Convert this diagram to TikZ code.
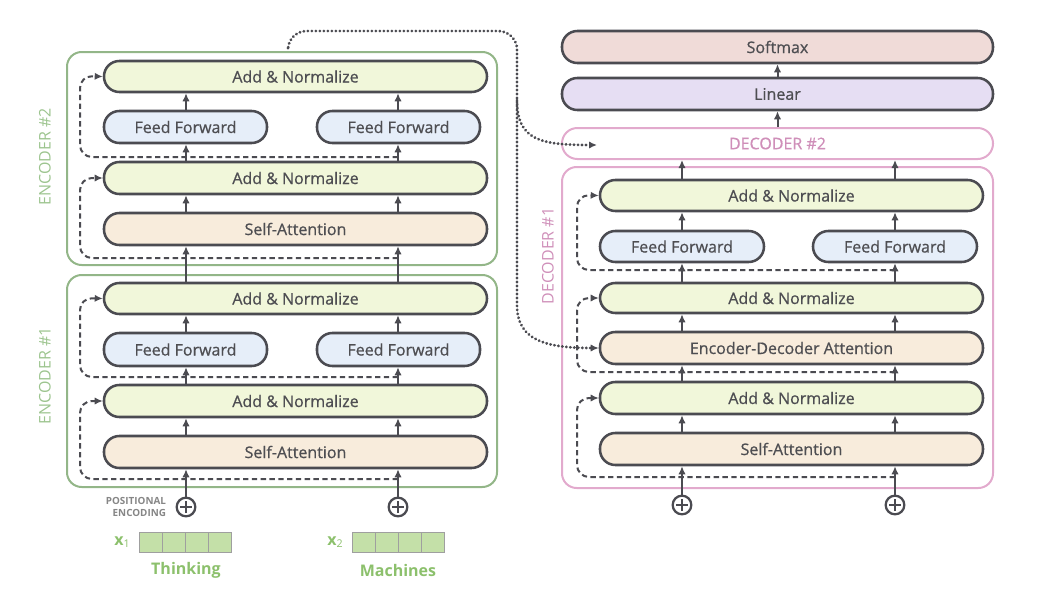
\documentclass[tikz,border=0pt]{standalone}
\usepackage{fontspec}
\setmainfont{Open Sans}
\newfontfamily\boxfont{Open Sans}[FakeBold=0.7]
\usetikzlibrary{arrows.meta, fit, positioning}

\definecolor{edgegray}{HTML}{4B4B51}
\definecolor{txtgray}{HTML}{4E4E52}
\definecolor{annorm}{HTML}{F1F7DA}
\definecolor{ffblue}{HTML}{E6EEF9}
\definecolor{attpeach}{HTML}{F8ECDC}
\definecolor{smaxred}{HTML}{F0DBD8}
\definecolor{linpurple}{HTML}{E6DEF3}
\definecolor{encgreen}{HTML}{93B688}
\definecolor{enctext}{HTML}{9CC48E}
\definecolor{decpink}{HTML}{E2AACD}
\definecolor{dectext}{HTML}{CF8FB9}
\definecolor{cellgreen}{HTML}{C4E0A8}
\definecolor{wordgreen}{HTML}{8CC06C}

\begin{document}
\begin{tikzpicture}[x=0.75pt,y=-0.75pt,
  box/.style={draw=edgegray, line width=1.9pt, rounded corners=11.5pt, inner sep=0pt},
  boxtext/.style={text=txtgray, font=\boxfont\fontsize{12}{14}\selectfont},
  addnorm/.style={box, fill=annorm},
  feedfwd/.style={box, fill=ffblue},
  attn/.style={box, fill=attpeach},
  encframe/.style={draw=encgreen, line width=1.5pt, rounded corners=11pt, inner sep=0pt},
  decframe/.style={draw=decpink, line width=1.5pt, rounded corners=11pt, inner sep=0pt},
  enclabel/.style={text=enctext, font=\fontsize{12}{14}\selectfont, rotate=90},
  declabel/.style={text=dectext, font=\fontsize{12}{14}\selectfont, rotate=90},
  flow/.style={-{Latex[length=6pt,width=5.5pt]}, draw=edgegray, line width=1.5pt},
  resid/.style={-{Latex[length=6pt,width=5.5pt]}, draw=edgegray, line width=1.5pt, dash pattern=on 4pt off 2.6pt, rounded corners=9pt},
  dotflow/.style={-{Latex[length=6pt,width=5.5pt]}, draw=edgegray, line width=2.2pt, line cap=round, dash pattern=on 0.2pt off 2.8pt},
  plusc/.style={circle, draw=edgegray, line width=1.7pt, minimum size=14pt, inner sep=0pt,
    path picture={\draw[edgegray, line width=1.6pt]
      ([xshift=-4.5pt]path picture bounding box.center) -- ([xshift=4.5pt]path picture bounding box.center)
      ([yshift=-4.5pt]path picture bounding box.center) -- ([yshift=4.5pt]path picture bounding box.center);}},
  cell/.style={draw=gray!75, fill=cellgreen, line width=0.6pt, minimum width=17.4pt, minimum height=15pt, inner sep=0pt, outer sep=0pt},
  vlabel/.style={text=wordgreen, font=\fontsize{12}{14}\selectfont\bfseries},
  word/.style={text=wordgreen, font=\fontsize{12}{14}\selectfont\bfseries},
  posenc/.style={text=gray!95, align=right, inner sep=0pt, font=\fontsize{7.4}{9}\selectfont\bfseries}
]
\useasboundingbox (0,0) rectangle (1040,590);

% columns
\coordinate (c1) at (186,0);
\coordinate (c2) at (398,0);
\coordinate (c3) at (682,0);
\coordinate (c4) at (895,0);

% encoder #2
\node[encframe, fit={(67,52) (497,265)}] (enc2) {};
\node[enclabel] (e2lab) at (45,157) {ENCODER \#2};
\node[addnorm, fit={(104,61) (487,92)}] (e2an2) {};
\node[feedfwd, fit={(104,111) (267,143)}] (e2ffa) {};
\node[feedfwd, fit={(317,111) (480,143)}] (e2ffb) {};
\node[addnorm, fit={(104,162) (487,194)}] (e2an1) {};
\node[attn, fit={(104,213) (487,245)}] (e2sa) {};
\node[boxtext] at (e2an2) {Add \& Normalize};
\node[boxtext] at (e2ffa) {Feed Forward};
\node[boxtext] at (e2ffb) {Feed Forward};
\node[boxtext] at (e2an1) {Add \& Normalize};
\node[boxtext] at (e2sa) {Self-Attention};

% encoder #1
\node[encframe, fit={(67,275) (497,487)}] (enc1) {};
\node[enclabel] (e1lab) at (45,376) {ENCODER \#1};
\node[addnorm, fit={(104,283) (487,314)}] (e1an2) {};
\node[feedfwd, fit={(104,333) (267,366)}] (e1ffa) {};
\node[feedfwd, fit={(317,333) (480,366)}] (e1ffb) {};
\node[addnorm, fit={(104,385) (487,417)}] (e1an1) {};
\node[attn, fit={(104,436) (487,468)}] (e1sa) {};
\node[boxtext] at (e1an2) {Add \& Normalize};
\node[boxtext] at (e1ffa) {Feed Forward};
\node[boxtext] at (e1ffb) {Feed Forward};
\node[boxtext] at (e1an1) {Add \& Normalize};
\node[boxtext] at (e1sa) {Self-Attention};

% inputs
\node[plusc] (p1) at (186,507) {};
\node[plusc] (p2) at (398,507) {};
\node[posenc, left=7pt of p1] (pe) {POSITIONAL\\ENCODING};
\node[cell] (x1a) at (150.6,542) {};
\node[cell, right=0pt of x1a] (x1b) {};
\node[cell, right=0pt of x1b] (x1c) {};
\node[cell, right=0pt of x1c] (x1d) {};
\node[vlabel, left=3pt of x1a] (x1lab) {x\textsubscript{\mdseries 1}};
\node[word] (w1) at (186,570) {Thinking};
\node[cell] (x2a) at (363.6,542) {};
\node[cell, right=0pt of x2a] (x2b) {};
\node[cell, right=0pt of x2b] (x2c) {};
\node[cell, right=0pt of x2c] (x2d) {};
\node[vlabel, left=3pt of x2a] (x2lab) {x\textsubscript{\mdseries 2}};
\node[word] (w2) at (398,570) {Machines};

% decoder side
\node[box, fill=smaxred, fit={(562,31) (993,63)}] (smax) {};
\node[box, fill=linpurple, fit={(562,78) (993,110)}] (lin) {};
\node[decframe, rounded corners=11.5pt, fit={(562,128) (993,159)}] (dec2) {};
\node[decframe, fit={(562,167) (993,488)}] (dec1) {};
\node[boxtext] at (smax) {Softmax};
\node[boxtext] at (lin) {Linear};
\node[boxtext, text=dectext] at (dec2) {DECODER \#2};
\node[declabel] (d1lab) at (548,256) {DECODER \#1};
\node[addnorm, fit={(600,180) (983,211)}] (d1an3) {};
\node[feedfwd, fit={(600,231) (764,262)}] (d1ffa) {};
\node[feedfwd, fit={(813,231) (977,262)}] (d1ffb) {};
\node[addnorm, fit={(600,283) (983,313)}] (d1an2) {};
\node[attn, fit={(600,332) (983,364)}] (d1eda) {};
\node[addnorm, fit={(600,382) (983,414)}] (d1an1) {};
\node[attn, fit={(600,433) (983,465)}] (d1sa) {};
\node[boxtext] at (d1an3) {Add \& Normalize};
\node[boxtext] at (d1ffa) {Feed Forward};
\node[boxtext] at (d1ffb) {Feed Forward};
\node[boxtext] at (d1an2) {Add \& Normalize};
\node[boxtext] at (d1eda) {Encoder-Decoder Attention};
\node[boxtext] at (d1an1) {Add \& Normalize};
\node[boxtext] at (d1sa) {Self-Attention};
\node[plusc] (p3) at (682,505) {};
\node[plusc] (p4) at (895,505) {};

% encoder flows
\draw[flow] (p1.north) -- (e1sa.south -| c1);
\draw[flow] (p2.north) -- (e1sa.south -| c2);
\foreach \c in {c1,c2} {
  \draw[flow] (e1sa.north -| \c) -- (e1an1.south -| \c);
  \draw[flow] (e1an2.north -| \c) -- (e2sa.south -| \c);
  \draw[flow] (e2sa.north -| \c) -- (e2an1.south -| \c);
}
\draw[flow] (e1an1.north -| c1) -- (e1ffa.south -| c1);
\draw[flow] (e1an1.north -| c2) -- (e1ffb.south -| c2);
\draw[flow] (e1ffa.north -| c1) -- (e1an2.south -| c1);
\draw[flow] (e1ffb.north -| c2) -- (e1an2.south -| c2);
\draw[flow] (e2an1.north -| c1) -- (e2ffa.south -| c1);
\draw[flow] (e2an1.north -| c2) -- (e2ffb.south -| c2);
\draw[flow] (e2ffa.north -| c1) -- (e2an2.south -| c1);
\draw[flow] (e2ffb.north -| c2) -- (e2an2.south -| c2);

% decoder flows
\draw[flow] (p3.north) -- (d1sa.south -| c3);
\draw[flow] (p4.north) -- (d1sa.south -| c4);
\foreach \c in {c3,c4} {
  \draw[flow] (d1sa.north -| \c) -- (d1an1.south -| \c);
  \draw[flow] (d1an1.north -| \c) -- (d1eda.south -| \c);
  \draw[flow] (d1eda.north -| \c) -- (d1an2.south -| \c);
  \draw[flow] (d1an3.north -| \c) -- (dec2.south -| \c);
}
\draw[flow] (d1an2.north -| c3) -- (d1ffa.south -| c3);
\draw[flow] (d1an2.north -| c4) -- (d1ffb.south -| c4);
\draw[flow] (d1ffa.north -| c3) -- (d1an3.south -| c3);
\draw[flow] (d1ffb.north -| c4) -- (d1an3.south -| c4);
\draw[flow] (dec2.north) -- (lin.south);
\draw[flow] (lin.north) -- (smax.south);

% residual connections
\draw[resid] (398,258) -- (80,258) -- (80,178) -- (e2an1.west);
\draw[resid] (398,157) -- (80,157) -- (80,76) -- (e2an2.west);
\draw[resid] (398,479) -- (80,479) -- (80,401) -- (e1an1.west);
\draw[resid] (398,377) -- (80,377) -- (80,298) -- (e1an2.west);
\draw[resid] (895,477) -- (577,477) -- (577,398) -- (d1an1.west);
\draw[resid] (895,372) -- (577,372) -- (577,298) -- (d1an2.west);
\draw[resid] (895,270) -- (577,270) -- (577,195) -- (d1an3.west);

% encoder output to decoders
\coordinate (tap) at (288,48);
\coordinate (d2in) at (597,145);
\draw[dotflow] (tap) [rounded corners=14pt] -- (288,31) -- (517,31) [sharp corners] -- (517,305)
  .. controls (517,340) and (545,348) .. (d1eda.west);
\draw[dotflow] (517,100) .. controls (517,140) and (540,145) .. (d2in);
\end{tikzpicture}
\end{document}
